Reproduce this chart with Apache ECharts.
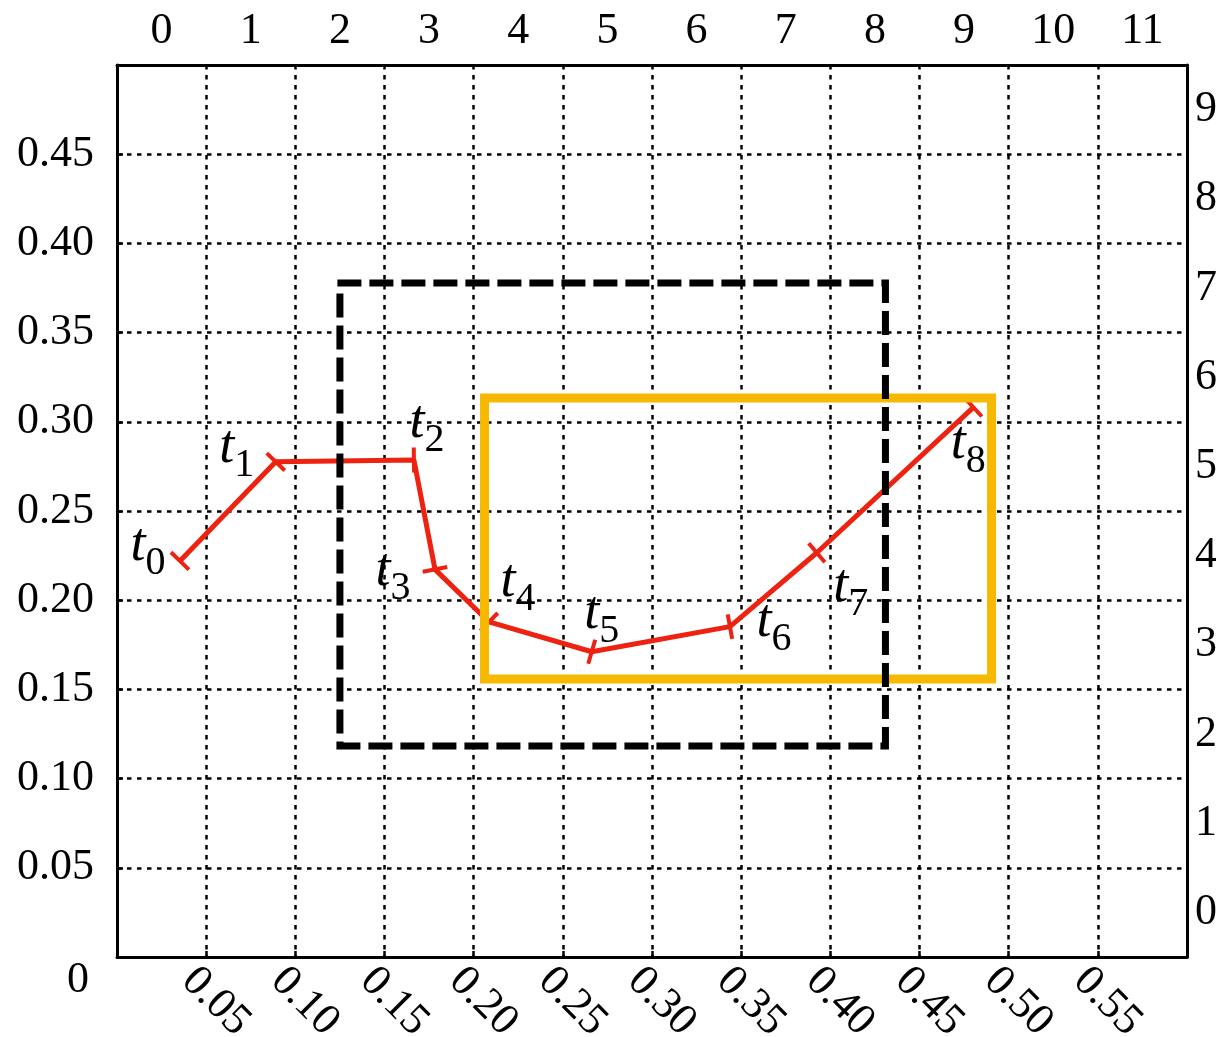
<!DOCTYPE html>
<html>
<head>
<meta charset="utf-8">
<script src="https://cdn.jsdelivr.net/npm/echarts@6/dist/echarts.min.js"></script>
<style>html,body{margin:0;padding:0;background:#fff;}#c{width:1216px;height:1037px;}</style>
</head>
<body>
<div id="c"></div>
<script>
// ---- data ----
const pointX = [0.0353, 0.0890, 0.1665, 0.1783, 0.2086, 0.2662, 0.3437, 0.3924, 0.4802];
const pointY = [0.2220, 0.2776, 0.2786, 0.2173, 0.1878, 0.1711, 0.1852, 0.2266, 0.3081];
const pointNames = ['0', '1', '2', '3', '4', '5', '6', '7', '8'];
const topLabels = ['0', '1', '2', '3', '4', '5', '6', '7', '8', '9', '10', '11'];
const rightLabels = ['0', '1', '2', '3', '4', '5', '6', '7', '8', '9'];
const dashedBoxX = [0.1250, 0.4309];
const dashedBoxY = [0.1183, 0.3778];
const solidBoxX = [0.2061, 0.4904];
const solidBoxY = [0.1558, 0.3133];

// ---- chart ----
const FONT = 'Liberation Serif';
const RED = '#ee2211';
const labelOffsets = [[-32, -15], [-39, -14], [13, -37], [-42, 1], [29, -40], [10, -38], [44, -5], [34, 34], [-5, 36]];

const pathData = pointX.map((x, i) => [x, pointY[i]]);

function boxRender(stroke, width, dash) {
  return function (params, api) {
    const p0 = api.coord([api.value(0), api.value(1)]);
    const p1 = api.coord([api.value(2), api.value(3)]);
    return {
      type: 'polyline',
      shape: {points: [[p0[0], p0[1]], [p1[0], p0[1]], [p1[0], p1[1]], [p0[0], p1[1]], [p0[0], p0[1]]]},
      style: {stroke: stroke, lineWidth: width, fill: null, lineDash: dash, lineJoin: 'miter', lineCap: 'square'}
    };
  };
}

const chart = echarts.init(document.getElementById('c'), null, {renderer: 'canvas'});
const gridDash = {color: '#000', width: 2.5, type: [4.5, 5.5]};
const axisLineStyle = {color: '#000', width: 3};

const option = {
  animation: false,
  grid: {left: 117, right: 29, top: 65, bottom: 80, outerBoundsMode: 'none', containLabel: false},
  xAxis: [{
    type: 'value', position: 'bottom', min: 0, max: 0.6, interval: 0.05,
    axisLine: {show: true, onZero: false, lineStyle: axisLineStyle},
    axisTick: {show: true, inside: true, length: 6, lineStyle: {color: '#000', width: 2.5}},
    splitLine: {show: true, lineStyle: gridDash},
    axisLabel: {
      rotate: -45, margin: 35, padding: [0, 0, 0, -25], align: 'left', verticalAlign: 'middle',
      color: '#000', fontFamily: FONT, fontSize: 44,
      formatter: v => (v < 0.001 || v > 0.599) ? '' : v.toFixed(2)
    }
  }, {
    type: 'category', position: 'top', data: topLabels, boundaryGap: true,
    axisLine: {show: true, onZero: false, lineStyle: axisLineStyle},
    axisTick: {show: false}, splitLine: {show: false},
    axisLabel: {interval: 0, margin: 12, color: '#000', fontFamily: FONT, fontSize: 44}
  }],
  yAxis: [{
    type: 'value', position: 'left', min: 0, max: 0.5, interval: 0.05,
    axisLine: {show: true, onZero: false, lineStyle: axisLineStyle},
    axisTick: {show: true, inside: true, length: 6, lineStyle: {color: '#000', width: 2.5}},
    splitLine: {show: true, lineStyle: gridDash},
    axisLabel: {
      margin: 23, color: '#000', fontFamily: FONT, fontSize: 44,
      formatter: v => v < 0.001 ? '{z|0}' : (v > 0.499 ? '' : v.toFixed(2)),
      rich: {z: {fontFamily: FONT, fontSize: 44, color: '#000', padding: [46, 5, 0, 0]}}
    }
  }, {
    type: 'category', position: 'right', data: rightLabels, boundaryGap: true,
    axisLine: {show: true, onZero: false, lineStyle: axisLineStyle},
    axisTick: {show: false}, splitLine: {show: false},
    axisLabel: {interval: 0, margin: 8, color: '#000', fontFamily: FONT, fontSize: 44}
  }],
  series: [
    {
      type: 'line', name: 'path', xAxisIndex: 0, yAxisIndex: 0, data: pathData,
      symbol: 'none', lineStyle: {color: RED, width: 5}, z: 2, silent: true
    },
    {
      type: 'custom', name: 'ticks', xAxisIndex: 0, yAxisIndex: 0, data: pathData, z: 3, silent: true,
      renderItem: function (params, api) {
        const i = params.dataIndex;
        const p = api.coord([api.value(0), api.value(1)]);
        const j = i === 0 ? 1 : i;
        const a = api.coord([pointX[j - 1], pointY[j - 1]]);
        const b = api.coord([pointX[j], pointY[j]]);
        const dx = b[0] - a[0], dy = b[1] - a[1];
        const len = Math.sqrt(dx * dx + dy * dy) || 1;
        const nx = -dy / len, ny = dx / len, h = 12.5;
        return {
          type: 'line',
          shape: {x1: p[0] - nx * h, y1: p[1] - ny * h, x2: p[0] + nx * h, y2: p[1] + ny * h},
          style: {stroke: RED, lineWidth: 4}
        };
      }
    },
    {
      type: 'custom', name: 'solidBox', xAxisIndex: 0, yAxisIndex: 0, z: 4, silent: true,
      data: [[solidBoxX[0], solidBoxY[0], solidBoxX[1], solidBoxY[1]]],
      renderItem: boxRender('#f7b900', 9, null)
    },
    {
      type: 'custom', name: 'dashedBox', xAxisIndex: 0, yAxisIndex: 0, z: 5, silent: true,
      data: [[dashedBoxX[0], dashedBoxY[0], dashedBoxX[1], dashedBoxY[1]]],
      renderItem: boxRender('#000', 7, [17, 15])
    },
    {
      type: 'custom', name: 'labels', xAxisIndex: 0, yAxisIndex: 0, z: 6, silent: true, data: pathData,
      renderItem: function (params, api) {
        const i = params.dataIndex;
        const p = api.coord([api.value(0), api.value(1)]);
        return {
          type: 'text',
          x: p[0] + labelOffsets[i][0], y: p[1] + labelOffsets[i][1],
          style: {
            text: '{t|t}{s|' + pointNames[i] + '}', align: 'center', verticalAlign: 'middle', fill: '#000',
            rich: {
              t: {fontFamily: FONT, fontStyle: 'italic', fontSize: 54, lineHeight: 54, fill: '#000', verticalAlign: 'top'},
              s: {fontFamily: FONT, fontSize: 40, lineHeight: 40, fill: '#000', padding: [25, 0, 0, 0], verticalAlign: 'top'}
            }
          }
        };
      }
    }
  ]
};
chart.setOption(option);
</script>
</body>
</html>
